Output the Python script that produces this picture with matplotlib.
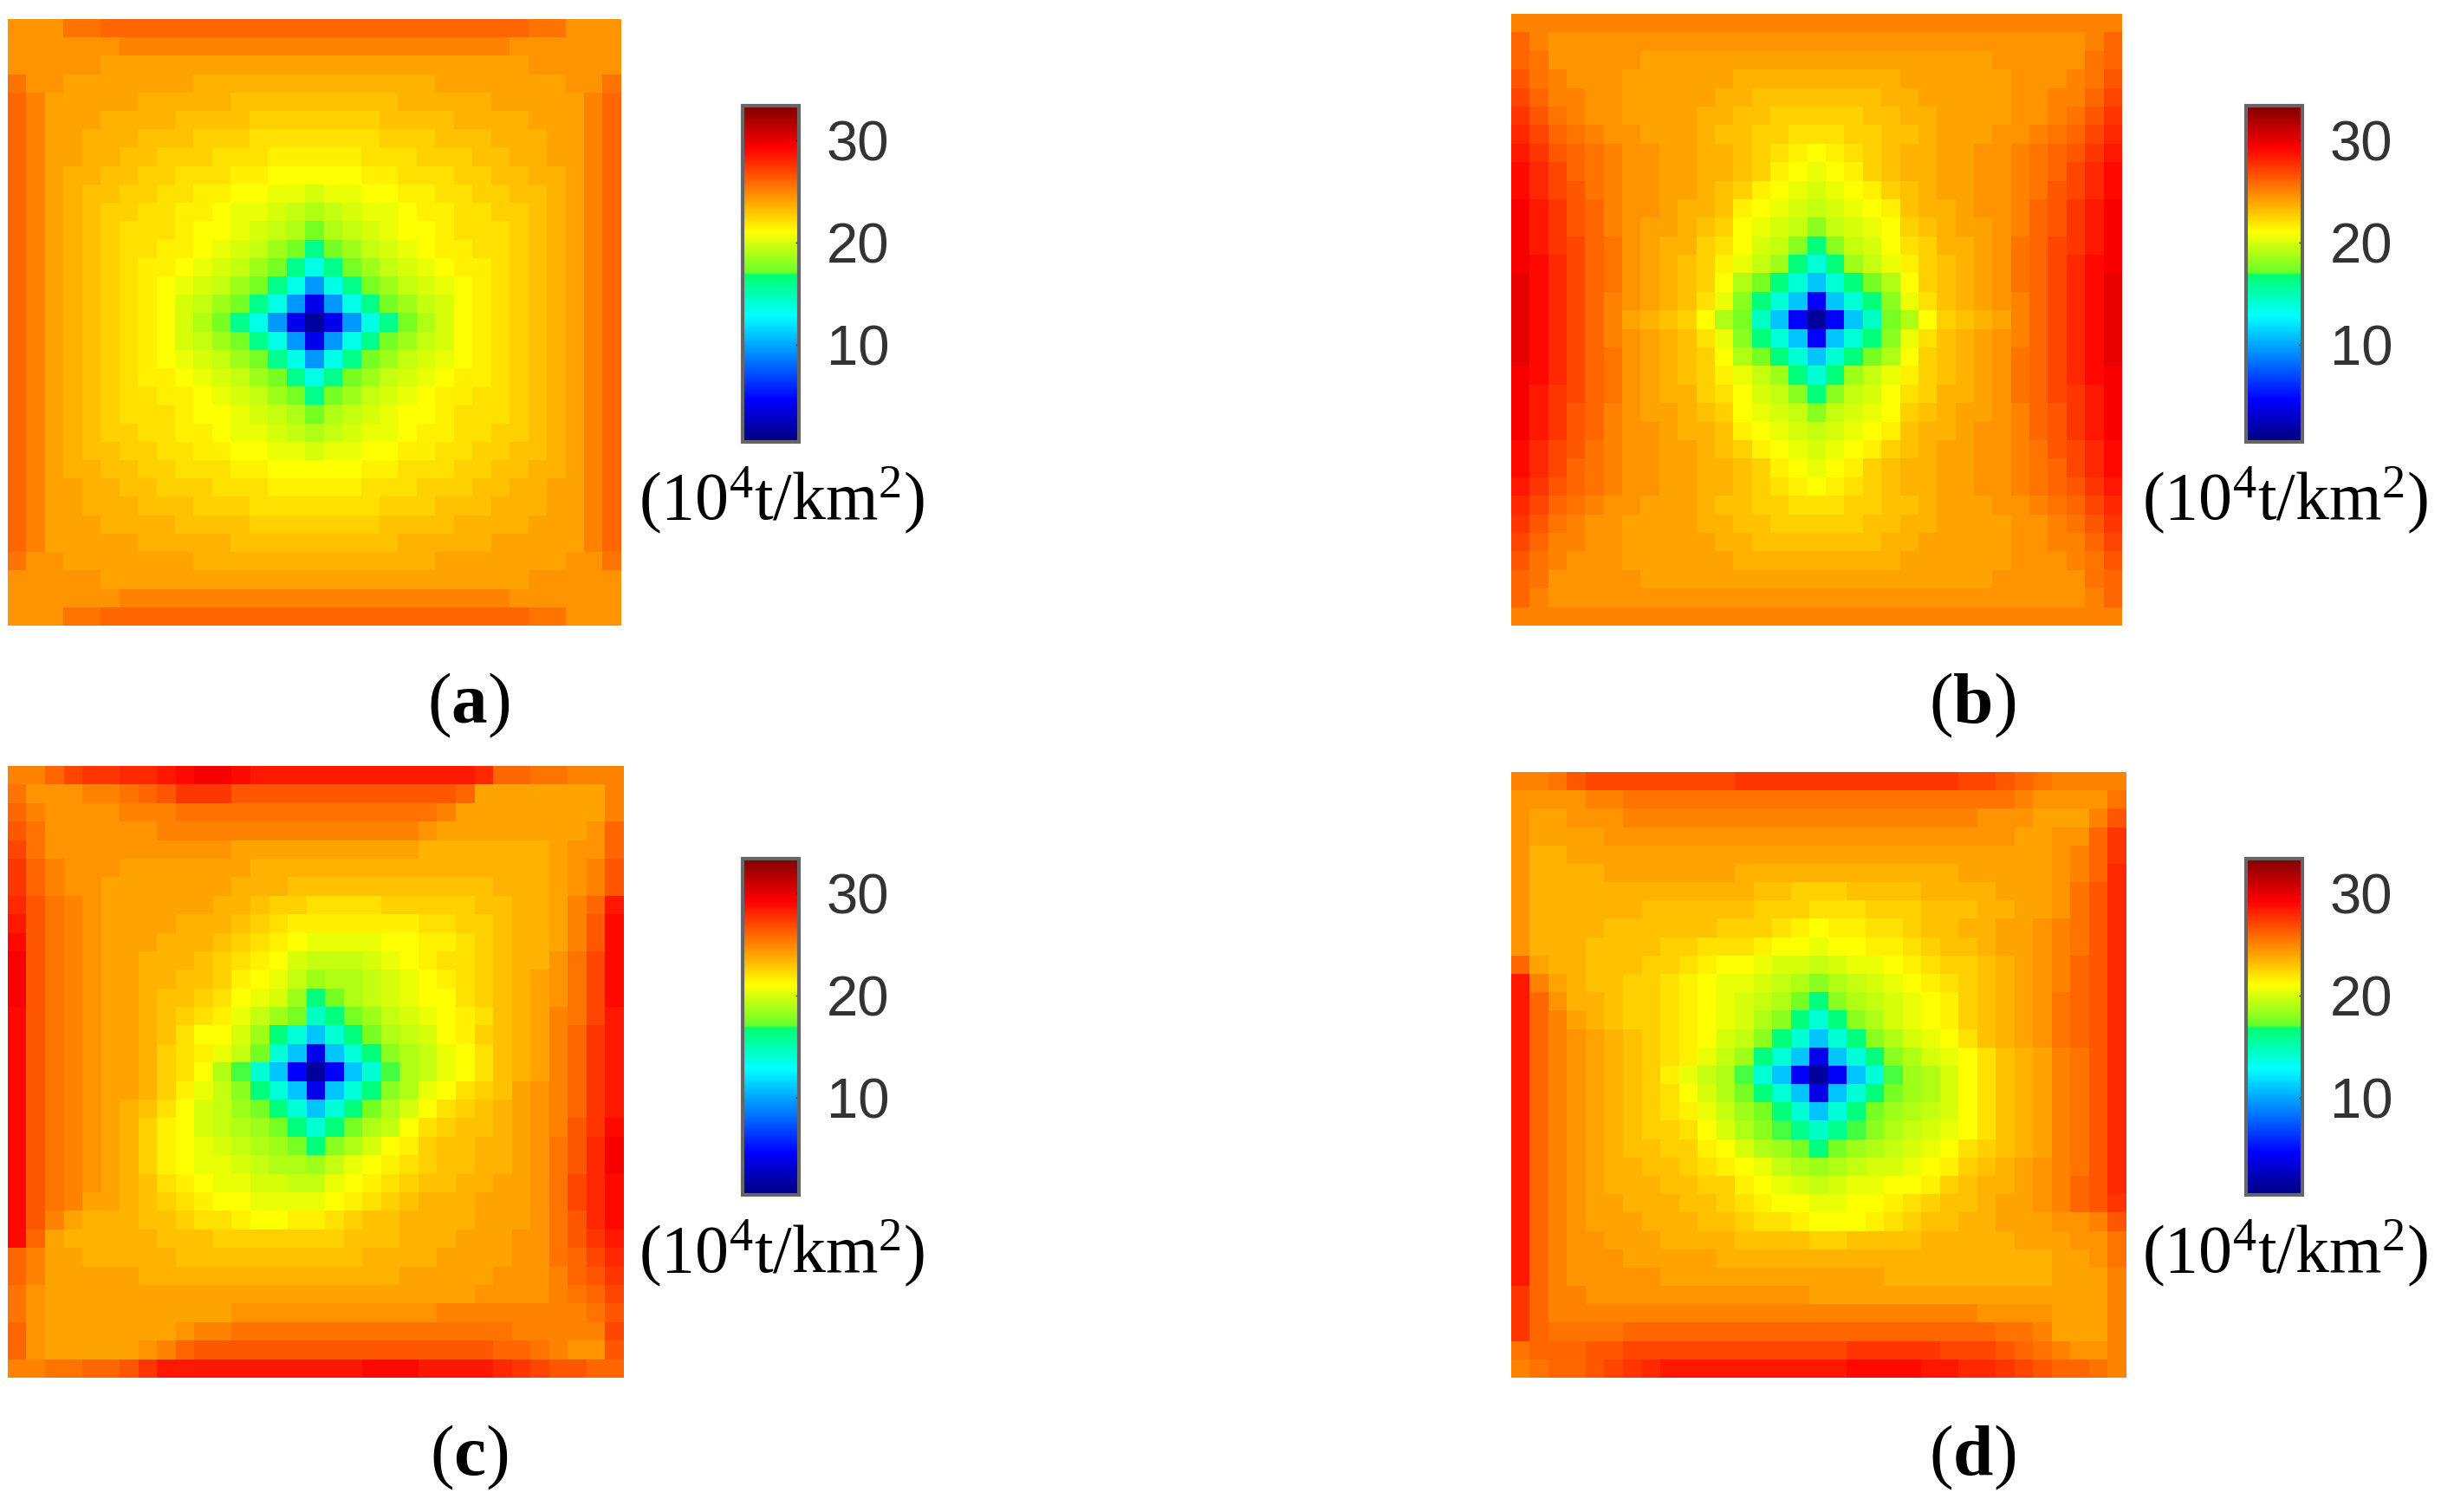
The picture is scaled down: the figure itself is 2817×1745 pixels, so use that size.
import matplotlib
matplotlib.use("Agg")
import matplotlib.pyplot as plt
import numpy as np
from matplotlib.colors import LinearSegmentedColormap, Normalize

plt.rcParams["font.family"] = ["Liberation Serif", "DejaVu Serif"]
plt.rcParams["mathtext.fontset"] = "custom"
plt.rcParams["mathtext.rm"] = "Liberation Serif"
plt.rcParams["mathtext.bf"] = "Liberation Serif:bold"
plt.rcParams["mathtext.default"] = "regular"

W, H = 2817, 1745

# Cell values are in half units of 10^4 t/km2 (47 means 23.5).
# (a) and (b) are mirror symmetric in the figure, so only the top left quarter is kept.
QUARTER_A = [
    [49,49,49,51,51,52,52,52,52,52,52,52,52,52,52,52,52],
    [49,49,49,49,49,49,50,50,50,50,50,50,50,50,50,50,50],
    [49,49,49,49,49,48,48,48,48,48,48,48,48,48,48,48,48],
    [51,49,49,48,48,48,48,48,48,48,47,47,47,47,47,47,47],
    [52,50,48,48,48,48,48,47,47,47,47,47,46,46,46,46,46],
    [52,50,48,48,48,47,47,47,47,46,46,46,46,45,45,45,45],
    [52,50,48,48,47,47,47,46,46,46,45,45,45,44,44,44,44],
    [52,50,48,48,47,47,46,46,45,45,45,44,44,44,43,43,43],
    [52,50,48,47,47,46,46,45,45,44,44,44,43,43,42,42,42],
    [52,50,48,47,46,46,45,45,44,44,43,43,42,42,41,41,40],
    [52,50,48,47,46,45,45,44,44,43,43,42,41,41,40,39,38],
    [52,50,48,47,46,45,44,44,44,43,42,42,41,40,39,38,35],
    [52,50,48,47,46,45,44,44,43,43,42,41,40,39,37,35,32],
    [52,50,48,47,46,45,44,43,43,42,41,40,39,37,35,32,27],
    [52,50,48,47,46,45,44,43,42,41,40,39,37,35,32,27,19],
    [52,50,48,47,46,45,44,43,42,40,39,37,35,32,27,19,8],
    [52,50,48,47,46,45,44,43,42,40,38,35,32,27,19,8,3],
]
QUARTER_B = [
    [50,50,50,50,50,50,50,50,50,50,50,50,50,50,50,50,50],
    [52,50,49,49,49,49,49,49,49,49,49,49,49,49,49,49,49],
    [52,51,49,49,49,49,49,48,48,48,48,48,48,48,48,48,48],
    [53,51,50,49,49,49,48,48,48,48,48,48,47,47,47,47,47],
    [54,52,50,50,49,49,48,48,48,48,48,47,47,46,46,46,46],
    [55,53,51,50,49,49,48,48,48,48,47,47,46,46,45,45,45],
    [56,54,52,51,50,49,49,48,48,48,47,46,46,45,45,44,44],
    [57,55,53,52,51,50,49,49,48,48,47,47,46,45,44,43,42],
    [58,56,54,52,51,50,49,49,48,48,47,47,46,45,43,42,41],
    [58,56,54,53,51,50,49,49,48,48,47,46,45,43,42,41,40],
    [59,57,55,53,52,50,49,49,48,47,47,46,43,42,41,40,39],
    [59,57,55,53,52,50,49,48,48,47,46,45,42,41,40,39,36],
    [59,57,55,54,52,51,49,48,47,47,45,44,42,40,39,36,33],
    [59,58,56,54,52,51,49,48,47,46,45,43,41,39,37,33,28],
    [60,58,56,54,52,51,49,48,47,46,45,42,38,35,33,28,22],
    [60,58,56,54,52,50,49,48,47,46,44,41,36,33,28,22,9],
    [60,58,56,54,52,50,48,47,46,45,42,38,35,29,22,9,3],
]
PANEL_C = [
    [50,50,52,54,55,55,56,56,57,58,59,59,58,57,57,57,57,57,57,57,57,57,57,57,57,56,52,52,51,51,50,50,50],
    [51,49,49,49,50,50,51,52,53,55,55,55,53,53,53,53,53,53,53,53,53,53,53,53,52,48,48,48,48,48,48,48,50],
    [52,50,49,49,49,49,50,50,50,51,51,51,51,51,51,51,51,51,51,51,51,51,51,50,48,48,48,48,48,48,48,48,50],
    [53,51,49,49,49,49,49,49,50,50,50,50,50,50,50,50,50,50,50,50,50,50,49,48,48,48,48,48,48,48,48,49,52],
    [54,51,49,49,49,49,49,49,49,49,49,49,48,48,48,48,48,48,48,48,48,48,47,47,47,47,47,47,47,48,49,49,52],
    [55,52,50,49,49,49,48,48,48,48,48,48,48,47,47,47,47,47,47,47,47,47,47,47,47,47,47,47,47,48,49,50,53],
    [55,52,50,49,49,48,48,48,48,48,48,48,47,47,47,46,46,46,46,46,46,46,46,46,46,46,47,47,47,48,49,50,53],
    [56,53,51,50,49,48,48,48,48,48,48,47,47,46,45,45,44,44,44,44,45,45,45,45,45,46,46,47,47,48,50,52,57],
    [57,53,51,50,49,48,48,48,48,47,47,47,46,45,44,43,43,43,43,43,43,43,44,44,45,45,46,47,47,48,50,53,58],
    [58,53,51,50,49,48,48,48,47,47,47,46,45,44,43,42,41,41,41,41,42,42,43,43,44,45,46,47,47,48,50,53,58],
    [59,53,51,50,49,48,48,47,47,47,46,45,44,43,42,40,39,39,39,40,41,42,43,44,44,45,46,47,47,49,51,54,58],
    [59,53,51,50,49,48,48,47,47,46,46,45,43,42,41,39,37,38,38,39,40,41,42,43,44,45,46,47,48,49,51,54,58],
    [59,53,51,50,49,48,48,47,46,46,45,44,42,41,40,37,33,35,38,39,40,41,42,42,44,45,46,47,48,49,51,54,58],
    [58,53,51,50,49,48,48,47,46,45,44,43,41,39,37,35,29,33,35,37,39,40,41,42,43,44,46,47,48,50,51,54,57],
    [58,53,51,50,49,48,48,47,46,44,42,42,40,37,33,28,22,28,33,35,38,39,40,42,43,45,46,47,48,50,52,55,57],
    [58,53,51,50,49,48,48,47,45,44,43,41,39,35,28,22,8,22,28,33,36,38,39,41,42,44,46,47,48,50,52,55,57],
    [58,53,51,50,49,48,48,47,45,44,42,38,34,28,22,9,3,9,22,28,34,38,39,41,42,44,46,47,48,50,52,55,57],
    [58,53,51,50,49,48,48,47,45,43,41,39,36,33,28,22,8,22,28,33,36,38,41,42,44,45,46,48,49,50,52,55,57],
    [58,53,51,50,49,48,47,46,44,42,40,39,37,35,33,28,22,28,33,35,38,40,42,44,45,46,47,48,49,50,52,55,57],
    [58,53,51,50,49,48,47,45,43,42,40,39,38,37,35,33,28,33,35,38,39,42,44,45,46,46,47,48,49,50,53,55,58],
    [58,53,51,50,49,48,47,45,43,42,41,40,39,38,37,35,33,36,38,40,42,43,45,46,46,47,47,48,49,51,53,56,59],
    [58,53,51,50,49,48,47,45,43,42,41,41,40,39,38,38,37,39,41,42,43,44,45,46,46,47,47,48,49,51,53,56,59],
    [58,53,51,50,49,48,47,46,44,43,42,41,41,40,40,39,39,41,42,43,44,45,46,46,47,47,48,48,49,51,54,56,58],
    [58,53,51,50,48,48,47,46,45,44,43,42,42,41,41,41,41,42,43,44,45,46,47,47,47,48,48,48,49,51,54,56,58],
    [58,53,50,48,47,47,47,46,46,45,44,44,43,42,42,43,43,44,45,46,46,47,47,47,47,48,48,48,49,51,53,56,58],
    [58,52,48,47,47,47,47,47,46,46,46,45,45,45,45,45,45,45,46,46,46,47,47,47,48,48,48,49,49,51,53,55,57],
    [52,50,48,48,47,47,47,47,47,46,46,46,46,46,46,46,46,46,46,47,47,47,47,48,48,48,48,49,49,51,52,54,56],
    [52,50,48,48,48,48,48,47,47,47,47,47,47,47,47,47,47,47,47,47,47,48,48,48,48,48,49,49,49,50,52,53,55],
    [51,49,48,48,48,48,48,48,48,48,48,48,48,48,48,48,48,48,48,48,48,48,48,48,48,49,49,49,49,50,51,52,54],
    [51,49,48,48,48,48,48,48,48,48,48,48,49,49,49,49,49,49,49,49,49,49,49,50,50,50,50,50,50,50,50,51,53],
    [52,49,48,48,48,48,48,48,48,49,50,50,51,51,51,51,51,51,51,51,51,51,51,51,51,51,51,50,50,50,50,50,54],
    [52,49,48,48,48,48,48,49,50,52,53,53,53,53,53,53,53,53,53,53,53,53,53,53,53,53,52,52,51,50,49,49,53],
    [50,50,51,51,52,52,53,55,57,57,57,57,57,57,57,57,57,57,57,58,58,58,57,57,57,57,56,55,54,53,53,52,52],
]
PANEL_D = [
    [50,50,51,53,54,54,54,54,54,54,54,54,55,55,55,55,55,55,55,55,55,55,55,55,54,54,53,52,51,50,50,50,50],
    [49,49,49,49,50,50,51,51,51,51,51,51,51,51,51,51,51,51,51,51,51,51,51,51,51,51,51,50,49,49,49,49,51],
    [49,48,48,49,49,49,50,50,50,50,50,50,50,50,50,50,50,50,50,50,50,50,50,50,50,49,49,49,48,48,48,50,53],
    [49,48,48,48,48,49,49,49,49,49,49,49,49,49,49,49,49,49,49,49,49,49,49,49,49,49,49,48,48,49,49,52,55],
    [49,47,47,48,48,48,48,48,48,48,48,48,48,48,48,48,48,48,48,48,48,48,48,48,48,48,48,48,48,49,50,52,55],
    [49,47,47,47,47,48,48,48,48,48,48,48,47,47,47,47,47,47,47,47,47,47,47,47,48,48,48,48,48,49,50,52,56],
    [49,47,47,47,47,47,47,47,47,47,47,47,47,46,46,45,45,45,46,46,46,46,47,47,47,47,48,48,48,49,51,53,56],
    [49,47,47,47,47,47,47,46,46,46,46,46,46,45,45,45,44,44,44,45,45,45,46,46,46,47,47,48,48,49,51,53,56],
    [49,47,47,47,47,46,46,46,46,46,46,45,45,45,44,43,42,43,43,44,44,45,46,46,47,47,48,48,49,50,51,53,56],
    [49,47,47,47,46,46,46,46,45,45,44,44,44,43,42,42,41,42,42,43,43,44,45,46,46,47,48,48,49,50,51,53,56],
    [52,48,47,47,46,46,46,45,45,44,43,42,42,41,40,40,39,40,41,41,42,43,44,45,45,46,47,48,49,50,52,53,56],
    [57,50,48,47,46,46,45,45,44,43,42,41,41,40,39,38,36,38,39,40,41,42,43,44,45,46,47,48,49,50,52,53,56],
    [57,52,49,47,47,46,45,45,44,43,42,41,40,39,38,35,33,36,38,39,40,41,42,43,45,46,47,48,49,51,52,53,56],
    [57,52,50,48,47,46,45,45,44,43,42,41,40,38,36,33,28,33,36,38,40,41,42,43,45,46,47,48,49,51,52,53,56],
    [57,52,50,49,48,47,46,45,44,43,42,40,39,36,33,28,22,28,33,36,38,40,41,42,44,46,47,48,49,51,52,53,56],
    [57,52,50,49,48,47,46,45,44,43,41,39,37,33,28,22,8,22,28,33,36,38,40,41,42,44,46,47,48,50,51,53,56],
    [57,52,50,49,48,47,46,45,43,41,39,38,34,28,22,9,3,9,22,28,34,37,38,40,42,44,46,47,48,50,51,53,56],
    [57,52,50,49,48,47,46,45,44,42,40,38,35,33,28,22,8,22,28,33,35,37,38,40,42,44,46,47,48,50,51,53,56],
    [57,52,50,49,48,47,46,45,44,43,41,39,37,35,33,28,22,28,33,35,37,38,39,40,42,44,46,47,48,50,51,53,56],
    [57,52,50,49,48,47,46,45,45,44,42,40,38,36,34,32,29,32,34,36,38,39,40,41,42,44,46,47,48,50,51,53,56],
    [57,52,50,49,48,47,46,46,45,45,43,42,40,38,37,35,33,35,37,38,39,40,41,42,44,45,46,47,48,50,51,53,56],
    [57,52,50,49,48,47,47,46,46,45,44,43,42,41,39,38,37,38,39,40,40,41,42,43,45,46,47,48,49,50,51,53,56],
    [57,52,50,49,48,47,47,47,46,46,45,45,43,42,41,40,39,40,41,41,42,42,43,45,46,47,47,48,49,50,52,53,56],
    [57,52,50,49,48,48,47,47,47,46,46,45,44,43,42,42,41,41,42,42,43,44,45,46,46,47,48,48,49,50,52,53,55],
    [57,52,50,49,48,48,48,47,47,47,46,46,45,44,44,43,42,42,42,43,44,45,46,46,47,47,48,48,48,49,49,50,53],
    [57,52,50,49,49,48,48,48,47,47,47,47,46,46,46,46,45,45,46,46,46,46,47,47,47,47,47,48,48,48,49,49,51],
    [57,52,50,49,49,49,48,48,48,48,48,47,47,47,47,47,47,47,47,47,47,47,47,47,47,47,47,47,47,48,48,49,51],
    [57,52,50,49,49,49,49,49,48,48,48,48,48,48,48,48,48,48,48,48,47,47,47,47,47,47,47,47,47,48,48,48,50],
    [55,52,50,50,49,49,49,49,49,49,49,49,49,49,49,49,48,48,48,48,48,48,48,48,48,48,48,48,48,48,48,48,50],
    [55,52,50,50,50,50,50,50,50,50,50,50,50,50,50,50,50,50,50,50,50,50,50,50,50,49,49,49,49,48,48,48,50],
    [55,52,51,51,51,51,52,52,52,52,52,52,52,52,52,52,52,52,52,52,52,52,52,52,52,52,51,51,50,48,48,48,50],
    [51,52,52,52,53,53,54,54,54,54,54,54,54,54,54,54,54,54,55,55,55,55,55,54,54,54,53,52,51,50,49,49,50],
    [50,51,52,52,53,54,55,56,57,57,57,57,57,57,57,57,57,57,58,58,58,58,57,57,56,56,55,54,53,52,52,51,50],
]

PANEL_LABELS = ["a", "b", "c", "d"]
BAR_TICKS = [10, 20, 30]
VMIN, VMAX = 0.5, 33.4

# MATLAB style jet; the reference has a hard step in the green part of its bar
JET = LinearSegmentedColormap.from_list("jet_bar", [
    (0.0, (0, 0, 0.5)),
    (0.125, (0, 0, 1)),
    (0.375, (0, 1, 1)),
    (0.497, (0, 1, 0.43)),
    (0.503, (0.4, 1, 0.16)),
    (0.625, (1, 1, 0)),
    (0.875, (1, 0, 0)),
    (1.0, (0.5, 0, 0)),
], N=512)


def unfold(quarter):
    top = np.hstack([quarter, np.fliplr(quarter)[:, 1:]])
    return np.vstack([top, np.flipud(top)[1:]])


def px_axes(fig, x0, y0, x1, y1):
    return fig.add_axes([x0 / W, 1 - y1 / H, (x1 - x0) / W, (y1 - y0) / H])


def main():
    fig = plt.figure(figsize=(W / 100, H / 100), dpi=100, facecolor="white")
    norm = Normalize(VMIN, VMAX)

    grids = [unfold(QUARTER_A), unfold(QUARTER_B), np.array(PANEL_C), np.array(PANEL_D)]
    # image box, colour bar top/bottom, all in reference pixels
    boxes = [
        (9, 22, 717, 722, 857, 122, 922, 510),
        (1744, 16, 2449, 722, 2592, 122, 2657, 510),
        (9, 884, 720, 1590, 857, 991, 922, 1379),
        (1744, 891, 2454, 1590, 2592, 991, 2657, 1379),
    ]
    for grid, label, box in zip(grids, PANEL_LABELS, boxes):
        x0, y0, x1, y1, bx0, by0, bx1, by1 = box
        ax = px_axes(fig, x0, y0, x1, y1)
        im = ax.imshow(grid / 2, cmap=JET, norm=norm, aspect="auto", interpolation="nearest")
        ax.axis("off")

        cax = px_axes(fig, bx0, by0, bx1, by1)
        cb = fig.colorbar(im, cax=cax, ticks=BAR_TICKS)
        cb.outline.set_edgecolor("#666666")
        cb.outline.set_linewidth(3)
        cax.tick_params(direction="in", length=3, width=1, color="#222222", pad=23,
                        labelsize=47, labelcolor="#333333")
        for t in cax.get_yticklabels():
            t.set_family(["Liberation Sans", "DejaVu Sans"])

        # unit under the bar, panel letter under the map
        fig.text((bx0 + bx1 + 24) / 2 / W, 1 - (by1 + 68) / H, r"(10$^{4}$t/km$^{2}$)",
                 ha="center", va="center", fontsize=56, color="black")
        fig.text((x0 + 532) / W, 1 - (y1 + 92) / H, rf"($\mathbf{{{label}}}$)",
                 ha="center", va="center", fontsize=60, color="black")

    fig.savefig("out.png", dpi=100)
    plt.close(fig)


if __name__ == "__main__":
    main()
